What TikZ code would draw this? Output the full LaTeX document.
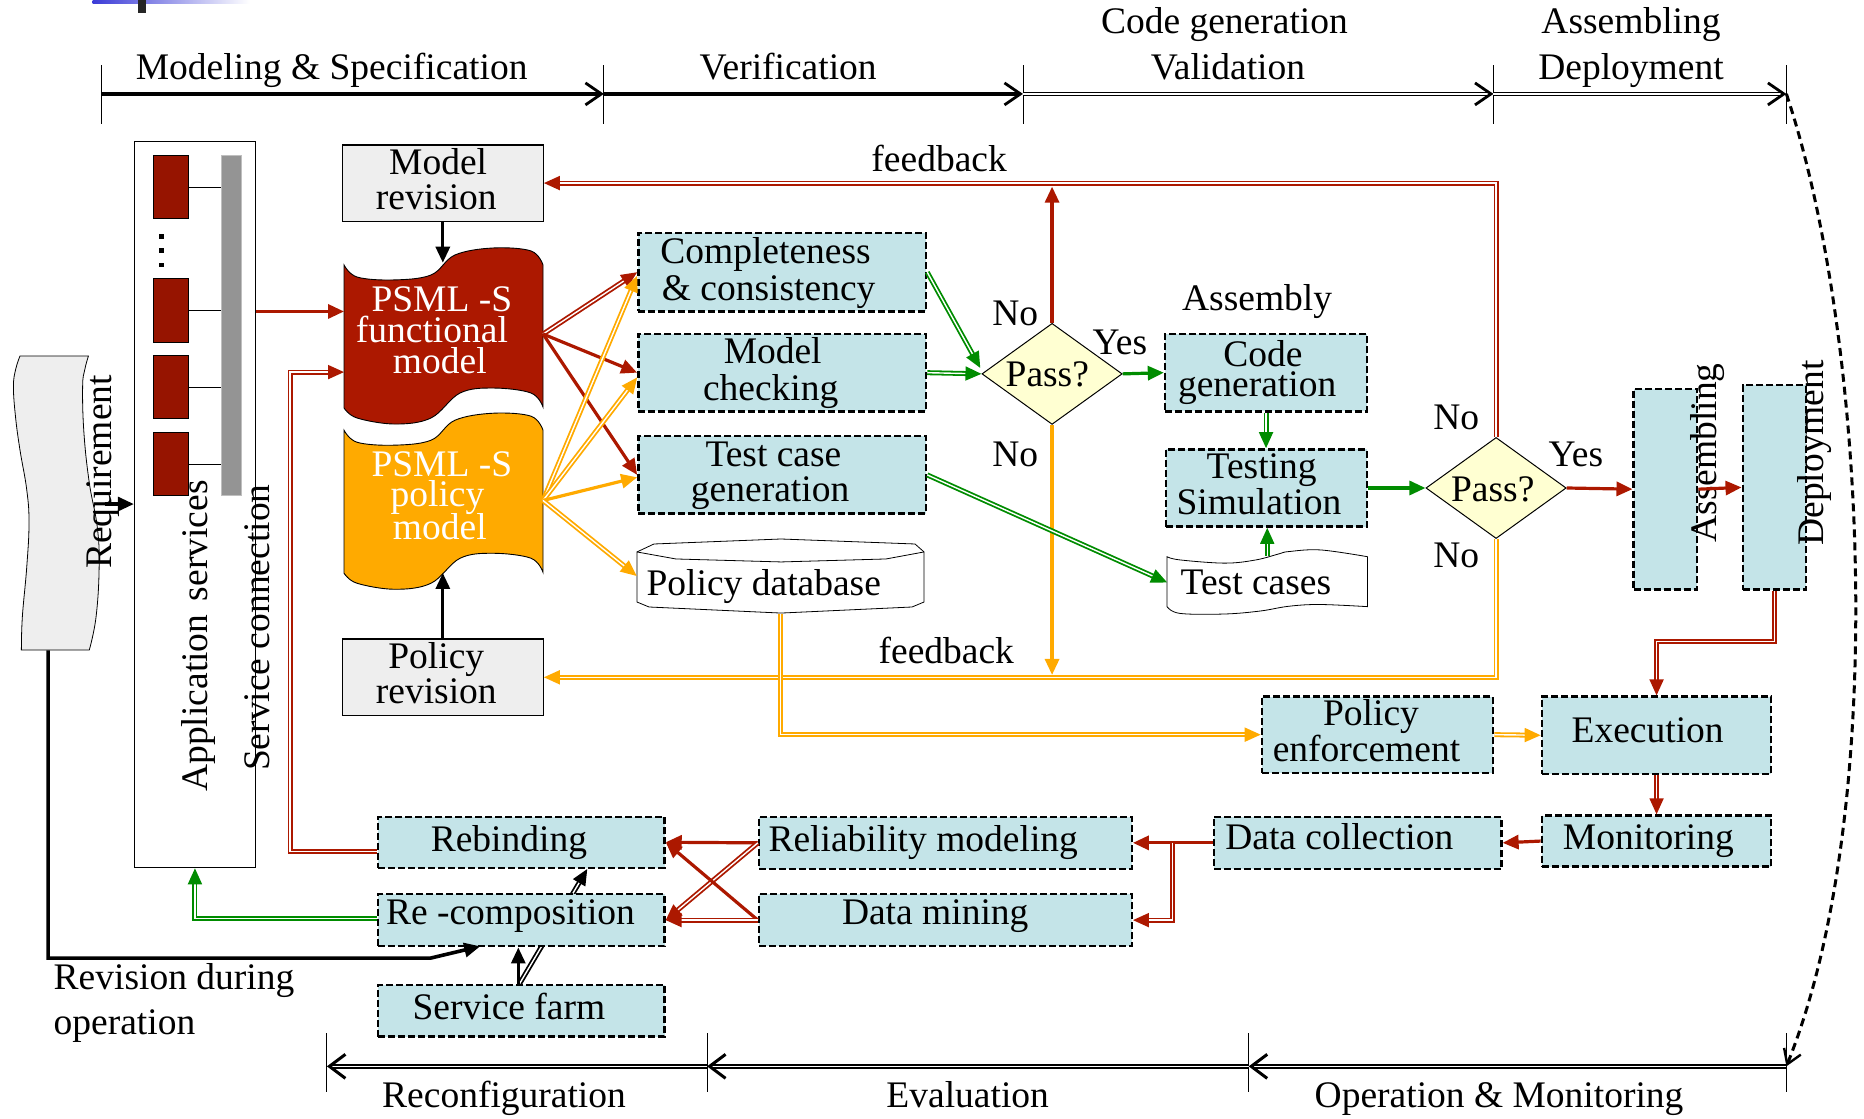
\documentclass[tikz,border=0pt]{standalone}
\usepackage{fontspec}
\setmainfont{Liberation Serif}
\usetikzlibrary{arrows.meta,shapes.geometric,calc}
\pgfdeclarelayer{behind}
\pgfsetlayers{behind,main}
\definecolor{fred}{RGB}{172,24,0}
\definecolor{sqred}{RGB}{150,20,0}
\definecolor{forange}{RGB}{255,170,0}
\definecolor{fgreen}{RGB}{0,140,0}
\definecolor{lblue}{RGB}{196,228,232}
\definecolor{lyellow}{RGB}{255,255,210}
\definecolor{lgray}{RGB}{238,238,238}
\definecolor{bargray}{RGB}{148,148,148}
\definecolor{slideblue}{RGB}{60,60,215}
\newcommand\pxu{1.1888pt}
\begin{document}
\begin{tikzpicture}[x=1.1888pt, y=-1.1888pt,
  txt/.style={font=\fontsize{37.5}{36}\selectfont, inner sep=0pt, anchor=base},
  wtxt/.style={txt, text=white},
  vtxt/.style={txt, rotate=90},
  stepbox/.style={rectangle, draw=black, fill=lblue, line width=2.4pt,
    dash pattern=on 7pt off 3pt, inner sep=0pt},
  graybox/.style={rectangle, draw=black, fill=lgray, line width=1.2pt, inner sep=0pt},
  ghost/.style={rectangle, inner sep=0pt},
  decision/.style={diamond, draw=black, fill=lyellow, line width=1pt, inner sep=0pt,
    minimum width=118*\pxu, minimum height=85*\pxu},
  arrowend/.style={-{Triangle[length=16pt,width=14pt]}},
  single/.style={line width=3.2pt, arrowend},
  twin/.style={double=white, double distance=1.4pt, line width=1.8pt, arrowend},
  rline/.style={draw=fred, single},
  rdbl/.style={draw=fred, twin},
  oline/.style={draw=forange, single},
  odbl/.style={draw=forange, twin},
  gline/.style={draw=fgreen, single},
  gdbl/.style={draw=fgreen, twin},
  kline/.style={draw=black, single},
  kdbl/.style={draw=black, twin},
  phase/.style={draw=black, line width=4pt,
    -{Straight Barb[length=16pt,width=22pt,line width=2.8pt]}},
  phasedbl/.style={draw=black, double=white, double distance=1.8pt, line width=1.3pt,
    -{Straight Barb[length=16pt,width=22pt,line width=2.8pt]}},
  phaseback/.style={draw=black, double=white, double distance=0.9pt, line width=2.3pt,
    -{Straight Barb[length=16pt,width=24pt,line width=3pt]}},
  tick/.style={draw=black, line width=0.9pt},
]
\useasboundingbox (0,0) rectangle (1568,941);

% slide header remnant
\shade[left color=slideblue, right color=white] (78,0) rectangle (210,2.8);
\fill[black!85] (116,0) rectangle (123,10.7);

% ---------- phase time lines ----------
\foreach \x/\n in {85.6/t0, 508/t1, 860.5/t2, 1256.3/t3, 1502.7/t4}{
  \coordinate (\n) at (\x,79);
  \draw[tick] (\x,55) -- (\x,104);
}
\foreach \x/\n in {275/b0, 594.8/b1, 1050.4/b2, 1502.7/b3}{
  \coordinate (\n) at (\x,897);
  \draw[tick] (\x,869) -- (\x,919);
}
\draw[phase] (t0) -- (t1);
\draw[phase] (t1) -- (t2);
\draw[phasedbl] (t2) -- (t3);
\draw[phasedbl] (t3) -- (t4);
\draw[phaseback] (b1) -- (b0);
\draw[phaseback] (b2) -- (b1);
\draw[phaseback] (b3) -- (b2);
\draw[line width=3pt, dash pattern=on 8pt off 5pt,
  -{Straight Barb[length=14pt,width=18pt,line width=2.4pt]}]
  (t4) .. controls (1570,280) and (1590,680) .. (b3);

\node[txt] (h-model) at (279,66.5) {Modeling \& Specification};
\node[txt] (h-verif) at (663,66.5) {Verification};
\node[txt] (h-code) at (1030,28) {Code generation};
\node[txt] (h-valid) at (1033,66.5) {Validation};
\node[txt] (h-assem) at (1372,28) {Assembling};
\node[txt] (h-deploy) at (1372,66.5) {Deployment};
\node[txt] (h-reconf) at (424,932) {Reconfiguration};
\node[txt] (h-eval) at (814,932) {Evaluation};
\node[txt] (h-oper) at (1261,932) {Operation \& Monitoring};

% ---------- requirement tape ----------
\path[fill=lgray, draw=black, line width=0.8pt]
  plot[smooth, tension=0.7] coordinates {(74.4,299.5) (71.3,311) (69.5,325.5) (70.6,364)
    (75.1,406) (81.8,443) (83.4,477) (80.8,519) (75.1,546.8)}
  -- plot[smooth, tension=0.7] coordinates {(18,546.8) (18.8,519) (22.5,477) (24.4,440)
    (22.5,412) (16.8,378.5) (13.1,351) (11.3,325.5) (13.1,311) (16.8,299.5)}
  -- cycle;
\coordinate (req-e) at (88,424);
\coordinate (req-s) at (40.5,547);
\coordinate (rev-bend) at (362,806);

% ---------- application services ----------
\node[rectangle, draw=black, fill=white, line width=1pt, inner sep=0pt,
  minimum width=102*\pxu, minimum height=611*\pxu] (appbox) at (164,424.5) {};
\node[rectangle, fill=bargray, draw=black!25, line width=0.8pt, inner sep=0pt,
  minimum width=17*\pxu, minimum height=286*\pxu] (bar) at (194.5,274) {};
\foreach \n/\y/\h in {sq1/157.5/53, sq2/261/54, sq3/325.5/53, sq4/390.5/53}{
  \node[rectangle, fill=sqred, draw=black, line width=0.6pt, inner sep=0pt,
    minimum width=29.5*\pxu, minimum height=\h*\pxu] (\n) at (143.3,\y) {};
  \draw[line width=0.8pt] (\n.east) -- (\n.east -| bar.west);
}
\foreach \y in {199,211,223}{ \fill (134,\y-2) rectangle (138,\y+2); }

% ---------- PSML-S models ----------
\newcommand\psmlshape[2]{%
  \begin{scope}[shift={(0,#2)}]
  \path[fill=#1, draw=black, line width=0.9pt]
    plot[smooth, tension=0.6] coordinates {(289.4,222.9) (300.3,233) (330.6,235.5)
      (362.6,231.3) (382.7,214.5) (414.7,208.6) (446.7,211.1) (456.8,222.9)}
    -- plot[smooth, tension=0.6] coordinates {(456.8,342.4) (446.7,330.6) (414.7,326.4)
      (387,330.6) (362.6,351.6) (332.3,356.7) (300.3,351.6) (289.4,343.2)}
    -- cycle;
  \end{scope}}
\psmlshape{fred}{0}
\psmlshape{forange}{139}
\coordinate (func-w1) at (289.4,262);
\coordinate (func-w2) at (289.4,313);
\coordinate (func-e) at (456.8,281);
\coordinate (func-n) at (372.5,221);
\coordinate (pol-e) at (456.8,421);
\coordinate (pol-s) at (372.5,482);
\node[wtxt] (func-a) at (371.7,262.2) {PSML -S};
\node[wtxt] (func-b) at (363.3,288) {functional};
\node[wtxt] (func-c) at (370,314) {model};
\node[wtxt] (pol-a) at (371.7,401) {PSML -S};
\node[wtxt] (pol-b) at (368,426.2) {policy};
\node[wtxt] (pol-c) at (370,454.2) {model};

% ---------- revision boxes ----------
\node[graybox, minimum width=169*\pxu, minimum height=64*\pxu] (modrev) at (372.5,154) {};
\node[txt] (modrev-a) at (368.6,147) {Model};
\node[txt] (modrev-b) at (367,176) {revision};
\node[graybox, minimum width=169*\pxu, minimum height=64.5*\pxu] (polrev) at (372.5,569.75) {};
\node[txt] (polrev-a) at (367,562) {Policy};
\node[txt] (polrev-b) at (367,591.6) {revision};

% ---------- verification ----------
\node[stepbox, minimum width=242*\pxu, minimum height=66*\pxu] (compl) at (658,229) {};
\node[txt] (compl-a) at (644,221.5) {Completeness};
\node[txt] (compl-b) at (646.6,252.5) {\& consistency};
\node[stepbox, minimum width=242*\pxu, minimum height=65*\pxu] (mcheck) at (658,313.5) {};
\node[txt] (mcheck-a) at (650,305.6) {Model};
\node[txt] (mcheck-b) at (648.3,336.5) {checking};
\node[stepbox, minimum width=242*\pxu, minimum height=65*\pxu] (tcgen) at (658,399.5) {};
\node[txt] (tcgen-a) at (650.6,392.6) {Test case};
\node[txt] (tcgen-b) at (647.8,422) {generation};

% policy database cylinder
\node[ghost, minimum width=241.5*\pxu, minimum height=63*\pxu] (poldb) at (656.5,484.5) {};
\path[fill=white, draw=black, line width=0.8pt]
  (535.8,464.3) -- (550.1,457.6) -- (657,453.4) -- (769.7,457.6) -- (777.3,464.3)
  -- (777.3,506.4) -- (767.2,510.6) -- (657,515.7) -- (546,510.6) -- (535.8,506.4) -- cycle;
\draw[line width=0.8pt] (535.8,464.3) -- (568.6,470.2) -- (657,472.7) -- (745.3,470.2) -- (777.3,464.3);
\node[txt] (poldb-t) at (642.5,501) {Policy database};

% ---------- decisions ----------
\node[decision] (pass1) at (885,314.5) {};
\node[txt] (pass1-t) at (881,325) {Pass?};
\node[decision] (pass2) at (1258.5,410.5) {};
\node[txt] (pass2-t) at (1255.7,422) {Pass?};
\node[txt] (no1) at (854,273.5) {No};
\node[txt] (yes1) at (942,298.6) {Yes};
\node[txt] (no2) at (854,392.6) {No};
\node[txt] (no3) at (1225,361) {No};
\node[txt] (yes2) at (1325.6,392.6) {Yes};
\node[txt] (no4) at (1225,477) {No};

% ---------- assembly ----------
\node[txt] (assembly) at (1057.5,260.8) {Assembly};
\node[stepbox, minimum width=170*\pxu, minimum height=65*\pxu] (codegen) at (1065,313.5) {};
\node[txt] (codegen-a) at (1062.3,308.5) {Code};
\node[txt] (codegen-b) at (1057.5,333.7) {generation};
\node[stepbox, minimum width=169*\pxu, minimum height=65*\pxu] (testsim) at (1065.5,410.5) {};
\node[txt] (testsim-a) at (1061.3,402.4) {Testing};
\node[txt] (testsim-b) at (1059,433.2) {Simulation};

% test cases document
\node[ghost, minimum width=168*\pxu, minimum height=44*\pxu] (tcases) at (1066,490) {};
\path[fill=white, draw=black, line width=0.8pt]
  plot[smooth, tension=0.6] coordinates {(981.7,468.3) (992.6,471) (1030.5,473.7)
    (1056.5,471) (1075.5,466) (1084,464) (1110.8,462.6) (1150.3,468.3)}
  -- plot[smooth, tension=0.6] coordinates {(1150.3,510.3) (1110,508.5) (1084,510)
    (1060,514) (1030,516.5) (992.6,516) (981.7,510.3)}
  -- cycle;
\node[txt] (tcases-t) at (1056.5,500.5) {Test cases};

% ---------- assembling / deployment ----------
\node[stepbox, minimum width=53.5*\pxu, minimum height=169*\pxu] (assem) at (1401,411.5) {};
\node[vtxt] (assem-t) at (1443.5,381) {Assembling};
\node[stepbox, minimum width=53*\pxu, minimum height=172*\pxu] (deploy) at (1492.5,410) {};
\node[vtxt] (deploy-t) at (1534,381) {Deployment};

% ---------- operation ----------
\node[stepbox, minimum width=193*\pxu, minimum height=65*\pxu] (exec) at (1393.5,618.5) {};
\node[txt] (exec-t) at (1386,624.7) {Execution};
\node[stepbox, minimum width=194.5*\pxu, minimum height=64*\pxu] (polenf) at (1158.75,618) {};
\node[txt] (polenf-a) at (1153.3,610.7) {Policy};
\node[txt] (polenf-b) at (1149.5,640.7) {enforcement};
\node[stepbox, minimum width=193*\pxu, minimum height=43*\pxu] (monit) at (1393.5,707.5) {};
\node[txt] (monit-t) at (1386.6,714.5) {Monitoring};
\node[stepbox, minimum width=242*\pxu, minimum height=44*\pxu] (datacol) at (1142,709) {};
\node[txt] (datacol-t) at (1126.6,715) {Data collection};

% ---------- evaluation ----------
\node[stepbox, minimum width=313.5*\pxu, minimum height=44*\pxu] (relmod) at (795.25,709) {};
\node[txt] (relmod-t) at (776.6,716.4) {Reliability modeling};
\node[stepbox, minimum width=313.5*\pxu, minimum height=44*\pxu] (dmining) at (795.25,774) {};
\node[txt] (dmining-t) at (786.7,778.1) {Data mining};

% ---------- reconfiguration ----------
\node[stepbox, minimum width=241*\pxu, minimum height=43*\pxu] (rebind) at (438.5,708.5) {};
\node[txt] (rebind-t) at (428.1,716.4) {Rebinding};
\node[stepbox, minimum width=241*\pxu, minimum height=44*\pxu] (recomp) at (438.5,774) {};
\node[txt] (recomp-t) at (429.4,778.1) {Re -composition};
\node[stepbox, minimum width=241*\pxu, minimum height=43.4*\pxu] (sfarm) at (438.5,850.3) {};
\node[txt] (sfarm-t) at (428.1,858) {Service farm};

\node[txt, anchor=base west] (revop-a) at (45,832) {Revision during};
\node[txt, anchor=base west] (revop-b) at (45,870.6) {operation};

% ---------- connectors ----------
\draw[rline] (appbox.east |- func-w1) -- (func-w1);
\draw[rdbl] ($(rebind.west)+(0,7.9)$) -| ($(func-w2)+(-45.4,0)$) -- (func-w2);
\draw[kline] (modrev.south) -- (func-n);
\draw[kline] (polrev.north) -- (pol-s);

\draw[rdbl] (func-e) -- (compl.west);
\draw[rline] (func-e) -- (mcheck.west);
\draw[rline] (func-e) -- (tcgen.west);
\draw[odbl] (pol-e) -- ($(compl.west)+(0,3)$);
\draw[odbl] (pol-e) -- ($(mcheck.west)+(0,4)$);
\draw[oline] (pol-e) -- ($(tcgen.west)+(0,2)$);
\draw[odbl] (pol-e) -- (poldb.west);

\draw[gdbl] (compl.east) -- ($(pass1.west)+(-1,-5)$);
\draw[gdbl] (mcheck.east) -- (pass1.west);
\draw[rline] (pass1.north) -- ($(pass1.north |- modrev.east)+(0,3)$);
\draw[gline] (pass1.east) -- (codegen.west);
\draw[oline] (pass1.south) -- ($(pass1.south |- polrev.east)+(0,-2)$);

\draw[rdbl] (pass2.north) |- (modrev.east);
\draw[odbl] (pass2.south) |- (polrev.east);
\node[txt] (fb-top) at (790,144.5) {feedback};
\node[txt] (fb-bot) at (796,558) {feedback};

\draw[gdbl] (codegen.south) -- (codegen.south |- testsim.north);
\draw[gdbl] (tcases.north) -- (tcases.north |- testsim.south);
\draw[gdbl] (tcgen.east) -- (tcases.west);
\draw[gline] (testsim.east) -- (pass2.west);
\draw[rline] (pass2.east) -- (assem.west);
\draw[rline] (assem.east) -- (deploy.west);
\draw[rdbl] (deploy.south) |- ($(exec.north)+(0,-45.4)$) -- (exec.north);

\draw[odbl] (poldb.south) |- (polenf.west);
\draw[odbl] (polenf.east) -- (exec.west);
\draw[rdbl] (exec.south) -- (monit.north);
\draw[rline] (monit.west) -- (datacol.east);
\draw[rline] (datacol.west) -- (relmod.east);
\draw[rdbl] ($(datacol.west)!0.5!(relmod.east)$) |- (dmining.east);

\draw[rline] (relmod.west) -- (rebind.east);
\draw[rdbl] (relmod.west) -- (recomp.east);
\draw[rline] (dmining.west) -- (rebind.east);
\draw[rdbl] (dmining.west) -- (recomp.east);

\draw[gdbl] ($(recomp.west)+(0,-1.5)$) -| (appbox.south);
\draw[kline] ($(sfarm.north)+(-2.5,0)$) -- ($(recomp.south)+(-2.5,0)$);
\begin{pgfonlayer}{behind}
\draw[kdbl] ($(sfarm.north)+(-1.5,0)$) -- ($(rebind.south)+(55.5,0)$);
\end{pgfonlayer}

\draw[kline] (req-e) -- (appbox.west |- req-e);
\draw[draw=black, line width=3.6pt, arrowend] (req-s) |- (rev-bend) -- ($(recomp.south)+(-34.5,-1)$);

% rotated labels
\node[vtxt] (req-t) at (94,397) {Requirement};
\node[vtxt] (app-t) at (174.6,535) {Application\hspace{4pt} services};
\node[vtxt] (conn-t) at (227,528) {Service connection};
\end{tikzpicture}
\end{document}
